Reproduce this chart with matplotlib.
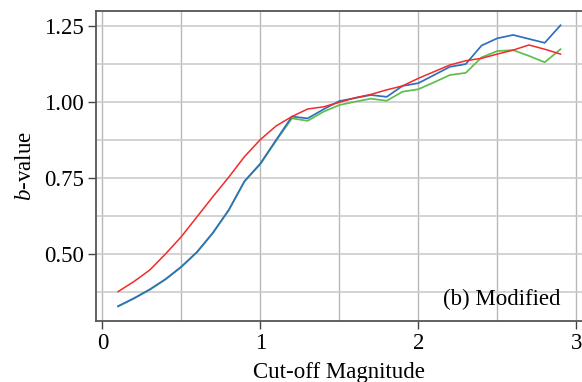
import matplotlib
matplotlib.use("Agg")
import matplotlib.pyplot as plt
from matplotlib.ticker import MultipleLocator

plt.rcParams['font.family'] = ['Liberation Serif', 'DejaVu Serif']
plt.rcParams['mathtext.fontset'] = 'custom'
plt.rcParams['mathtext.it'] = 'Liberation Serif:italic'
plt.rcParams['mathtext.rm'] = 'Liberation Serif'

cutoff = [0.1, 0.2, 0.3, 0.4, 0.5, 0.6, 0.7, 0.8, 0.9, 1.0,
          1.1, 1.2, 1.3, 1.4, 1.5, 1.6, 1.7, 1.8, 1.9, 2.0,
          2.1, 2.2, 2.3, 2.4, 2.5, 2.6, 2.7, 2.8, 2.9]
red = [0.376, 0.409, 0.447, 0.500, 0.557, 0.623, 0.689, 0.753, 0.821, 0.877,
       0.922, 0.953, 0.978, 0.985, 1.000, 1.015, 1.026, 1.041, 1.054, 1.079,
       1.101, 1.123, 1.137, 1.145, 1.159, 1.172, 1.189, 1.175, 1.159]
blue = [0.328, 0.354, 0.383, 0.417, 0.458, 0.507, 0.570, 0.645, 0.740, 0.798,
        0.876, 0.953, 0.947, 0.977, 1.004, 1.014, 1.024, 1.018, 1.054, 1.063,
        1.090, 1.117, 1.126, 1.187, 1.211, 1.222, 1.209, 1.196, 1.254]
green = [0.327, 0.353, 0.382, 0.416, 0.457, 0.506, 0.569, 0.644, 0.739, 0.796,
         0.873, 0.947, 0.939, 0.969, 0.991, 1.002, 1.012, 1.005, 1.035, 1.043,
         1.066, 1.090, 1.097, 1.148, 1.169, 1.172, 1.153, 1.132, 1.175]

fig = plt.figure(figsize=(5.82, 3.82), dpi=100)
ax = fig.add_axes([96/582, 61/382, (582-96)/582, 310/382])

ax.plot(cutoff, green, color='#5cbf4a', lw=1.25, zorder=3)
ax.plot(cutoff, blue, color='#2f6fbf', lw=1.25, zorder=4)
ax.plot(cutoff, red, color='#f22a2a', lw=1.1, zorder=5)

ax.set_xlim(-0.040, 3.036)
ax.set_ylim(0.279, 1.301)
ax.xaxis.set_major_locator(MultipleLocator(1))
ax.xaxis.set_minor_locator(MultipleLocator(0.5))
ax.yaxis.set_major_locator(MultipleLocator(0.25))
ax.yaxis.set_minor_locator(MultipleLocator(0.125))
ax.yaxis.set_major_formatter(matplotlib.ticker.FormatStrFormatter('%.2f'))
ax.grid(True, which='both', axis='x', color='#b8b8b8', lw=1.0)
ax.grid(True, which='both', axis='y', color='#cccccc', lw=1.2)
ax.set_axisbelow(True)

ax.tick_params(which='major', direction='out', length=5.5, width=1.0,
               color='#444444', labelsize=16.5, pad=3)
ax.tick_params(which='minor', length=0)
for s in ['left', 'bottom', 'top']:
    ax.spines[s].set_color('#555555')
    ax.spines[s].set_linewidth(1.3)
ax.spines['right'].set_visible(False)

ax.set_xlabel('Cut-off Magnitude', fontsize=16.5, labelpad=6)
ax.set_ylabel(r'$b$-value', fontsize=16.5, labelpad=6)
ax.text(0.955, 0.035, '(b) Modified', transform=ax.transAxes,
        ha='right', va='bottom', fontsize=16.5)

fig.savefig('out.png', dpi=100)
